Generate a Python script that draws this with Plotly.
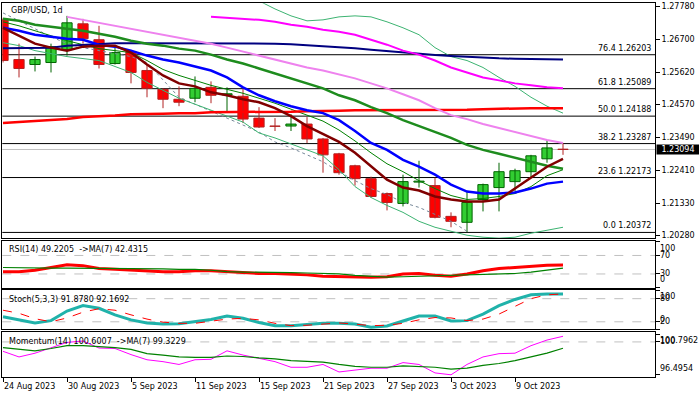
import plotly.graph_objects as go

# ---------------- data ----------------
dates = ["24 Aug 2023", "25 Aug 2023", "28 Aug 2023", "29 Aug 2023", "30 Aug 2023",
         "31 Aug 2023", "1 Sep 2023", "4 Sep 2023", "5 Sep 2023", "6 Sep 2023",
         "7 Sep 2023", "8 Sep 2023", "11 Sep 2023", "12 Sep 2023", "13 Sep 2023",
         "14 Sep 2023", "15 Sep 2023", "18 Sep 2023", "19 Sep 2023", "20 Sep 2023",
         "21 Sep 2023", "22 Sep 2023", "25 Sep 2023", "26 Sep 2023", "27 Sep 2023",
         "28 Sep 2023", "29 Sep 2023", "2 Oct 2023", "3 Oct 2023", "4 Oct 2023",
         "5 Oct 2023", "6 Oct 2023", "9 Oct 2023", "10 Oct 2023", "11 Oct 2023",
         "12 Oct 2023"]
x_labels = ["24 Aug 2023", "30 Aug 2023", "5 Sep 2023", "11 Sep 2023", "15 Sep 2023",
            "21 Sep 2023", "27 Sep 2023", "3 Oct 2023", "9 Oct 2023"]

opens = [1.27347, 1.26045, 1.25882, 1.25947, 1.26370, 1.27217, 1.26696, 1.25914, 1.26305,
         1.25686, 1.25068, 1.24742, 1.24775, 1.25133, 1.24888, 1.24840, 1.24123, 1.23863,
         1.23863, 1.23928, 1.23439, 1.22951, 1.22560, 1.22137, 1.21648, 1.21323, 1.22023,
         1.21909, 1.20899, 1.20704, 1.21453, 1.21844, 1.22039, 1.22365, 1.22788, 1.23100]
highs = [1.27412, 1.26566, 1.26142, 1.26566, 1.27478, 1.27380, 1.27152, 1.26435, 1.26338,
         1.25882, 1.25100, 1.25165, 1.25491, 1.25328, 1.25133, 1.25100, 1.24481, 1.24123,
         1.24253, 1.24156, 1.23472, 1.22983, 1.22593, 1.22202, 1.21681, 1.22267, 1.22723,
         1.22169, 1.21030, 1.21713, 1.21974, 1.22658, 1.22463, 1.22918, 1.23407, 1.23309]
lows = [1.25947, 1.25458, 1.25654, 1.25621, 1.26175, 1.26566, 1.25751, 1.25882, 1.25263,
        1.24807, 1.24449, 1.24514, 1.24644, 1.24612, 1.24319, 1.23960, 1.23798, 1.23700,
        1.23700, 1.23309, 1.22332, 1.22267, 1.21909, 1.21518, 1.21095, 1.21225, 1.21844,
        1.20834, 1.20541, 1.20378, 1.21062, 1.21062, 1.21713, 1.22169, 1.22658, 1.22918]
closes = [1.26012, 1.25751, 1.26045, 1.26468, 1.27250, 1.26729, 1.25882, 1.26273, 1.25621,
          1.25100, 1.24742, 1.24644, 1.25100, 1.24872, 1.24921, 1.24091, 1.23830, 1.23853,
          1.23928, 1.23439, 1.22918, 1.22332, 1.22137, 1.21551, 1.21355, 1.22039, 1.22055,
          1.20867, 1.20736, 1.21355, 1.21941, 1.22365, 1.22397, 1.22886, 1.23146, 1.23094]

ma_maroon = [1.27087, 1.26826, 1.26566, 1.26435, 1.26338, 1.26468, 1.26501, 1.26501, 1.26273,
             1.25882, 1.25524, 1.25263, 1.25165, 1.24970, 1.24872, 1.24742, 1.24644, 1.24449,
             1.24188, 1.23863, 1.23602, 1.23342, 1.22984, 1.22528, 1.22104, 1.21844, 1.21746,
             1.21551, 1.21453, 1.21388, 1.21388, 1.21453, 1.21811, 1.22169, 1.22528, 1.22788]
ma_blue = [1.27087, 1.26989, 1.26859, 1.26794, 1.26729, 1.26696, 1.26533, 1.26468, 1.26338,
           1.26175, 1.26045, 1.25947, 1.25817, 1.25686, 1.25458, 1.25133, 1.24872, 1.24677,
           1.24514, 1.24384, 1.24286, 1.24058, 1.23700, 1.23309, 1.23081, 1.22755, 1.22528,
           1.22267, 1.21941, 1.21713, 1.21648, 1.21648, 1.21681, 1.21811, 1.21974, 1.22039]
ma_green = [1.27380, 1.27315, 1.27184, 1.27119, 1.27054, 1.26989, 1.26891, 1.26794, 1.26663,
            1.26566, 1.26501, 1.26403, 1.26338, 1.26207, 1.26045, 1.25914, 1.25752, 1.25589,
            1.25426, 1.25263, 1.25100, 1.24872, 1.24709, 1.24481, 1.24286, 1.24058, 1.23863,
            1.23667, 1.23472, 1.23244, 1.23081, 1.22951, 1.22821, 1.22690, 1.22560, 1.22462]
ma_thin_green = [1.27282, 1.27152, 1.26989, 1.26826, 1.26663, 1.26533, 1.26403, 1.26338, 1.26273,
                 1.26012, 1.25719, 1.25524, 1.25361, 1.25198, 1.25068, 1.24937, 1.24775, 1.24612,
                 1.24416, 1.24221, 1.24025, 1.23732, 1.23374, 1.22983, 1.22625, 1.22365, 1.22071,
                 1.21811, 1.21583, 1.21453, 1.21485, 1.21551, 1.21648, 1.21876, 1.22234, 1.22430]
band_upper = [None] * 16 + [1.27970, 1.27705, 1.27478, 1.27315, 1.27347, 1.27445, 1.27478,
                            1.27445, 1.27282, 1.27087, 1.26859, 1.26435, 1.26142, 1.26012,
                            1.25784, 1.25458, 1.25165, 1.24807, 1.24514, 1.24286]
band_lower = [1.26598, 1.26501, 1.26338, 1.26240, 1.26142, 1.26077, 1.26012, 1.25817, 1.25621,
              1.25296, 1.25035, 1.24775, 1.24579, 1.24384, 1.24188, 1.23993, 1.23635, 1.23472,
              1.23276, 1.23081, 1.22886, 1.22430, 1.21876, 1.21518, 1.21257, 1.21030, 1.20737,
              1.20541, 1.20411, 1.20280, 1.20215, 1.20183, 1.20215, 1.20346, 1.20443, 1.20541]
ma_magenta = [None] * 13 + [1.27445, 1.27412, 1.27380, 1.27347, 1.27282, 1.27184, 1.27119,
                            1.27022, 1.26956, 1.26859, 1.26696, 1.26533, 1.26338, 1.26207,
                            1.26012, 1.25784, 1.25621, 1.25458, 1.25361, 1.25263, 1.25198,
                            1.25133, 1.25100]
ma_violet = [None] * 4 + [1.27445, 1.27347, 1.27250, 1.27152, 1.27054, 1.26956, 1.26859,
                          1.26761, 1.26663, 1.26566, 1.26435, 1.26305, 1.26175, 1.26045,
                          1.25914, 1.25784, 1.25686, 1.25556, 1.25426, 1.25263, 1.25100,
                          1.24905, 1.24709, 1.24449, 1.24221, 1.24091, 1.23928, 1.23798,
                          1.23667, 1.23537, 1.23407, 1.23309]
ma_red = [1.23960, 1.23993, 1.24025, 1.24058, 1.24091, 1.24156, 1.24172, 1.24205, 1.24253,
          1.24253, 1.24270, 1.24286, 1.24286, 1.24319, 1.24319, 1.24319, 1.24319, 1.24335,
          1.24335, 1.24351, 1.24351, 1.24367, 1.24384, 1.24384, 1.24384, 1.24384, 1.24384,
          1.24384, 1.24400, 1.24400, 1.24416, 1.24432, 1.24449, 1.24449, 1.24449, 1.24449]
ma_navy = [1.26413, 1.26413, 1.26413, 1.26435, 1.26501, 1.26533, 1.26550, 1.26576, 1.26576,
           1.26576, 1.26576, 1.26576, 1.26576, 1.26576, 1.26576, 1.26576, 1.26576, 1.26566,
           1.26550, 1.26517, 1.26501, 1.26468, 1.26413, 1.26370, 1.26321, 1.26273, 1.26230,
           1.26191, 1.26159, 1.26126, 1.26100, 1.26084, 1.26071, 1.26061, 1.26051, 1.26045]
gray_dotted = [1.27575, 1.27315, 1.27054, 1.26794, 1.26566, 1.26435, 1.26338, 1.26240, 1.26142,
               1.25947, 1.25361, 1.24807, 1.24579, 1.24351, 1.24123, 1.23895, 1.23667, 1.23342,
               1.23146, 1.22918, 1.22690, 1.22365, 1.22072, 1.21811, 1.21616, 1.21355, 1.21193,
               1.20964, 1.20736, 1.20411] + [None] * 6

fib_levels = ["0.0", "23.6", "38.2", "50.0", "61.8", "76.4"]
fib_prices = [1.20372, 1.22173, 1.23287, 1.24188, 1.25089, 1.26203]
price_ticks = [1.27780, 1.26700, 1.25620, 1.24570, 1.23490, 1.22410, 1.21330, 1.20280]
price_tick_text = ["1.27780", "1.26700", "1.25620", "1.24570", "1.23490", "1.22410", "1.21330", "1.20280"]
last_price = 1.23094

rsi = [35, 35, 38, 44, 50, 48, 42, 40, 38, 36, 35, 35, 37, 37, 35, 32, 31, 31, 30, 28, 25, 24,
       23, 23, 24, 30, 31, 27, 25, 30, 37, 42, 44, 46, 49, 49.2205]
rsi_ma = [44, 43, 42.5, 42.5, 42.5, 42.5, 42.5, 42, 41.5, 41, 41, 40, 40, 38, 35, 34, 34, 33,
          33, 32, 31, 30, 27, 25, 23, 24, 25, 26, 26, 27, 29, 30, 31, 34, 38, 42.4315]
rsi_levels = [70, 30]

stoch_k = [33, 25, 17, 23, 48, 62, 55, 38, 25, 17, 14, 15, 20, 26, 35, 29, 18, 10, 10, 13, 16,
           16, 14, 6, 9, 22, 35, 35, 22, 23, 40, 62, 78, 90, 92, 91.878]
stoch_d = [50, 42, 28, 20, 30, 45, 54, 50, 38, 27, 19, 16, 16, 22, 27, 29, 25, 16, 10, 11, 14,
           17, 14, 10, 11, 16, 25, 31, 30, 23, 27, 40, 60, 80, 90, 92.1692]
stoch_levels = [80, 20]

mom = [99.0, 98.4, 98.8, 99.4, 99.95, 100.1, 99.35, 99.3, 98.65, 98.1, 97.9, 97.6, 98.1, 98.15,
       99.05, 98.6, 98.25, 97.9, 97.3, 97.3, 97.6, 96.8, 97.0, 97.2, 97.2, 97.8, 97.6, 96.7,
       96.5, 97.6, 98.4, 98.75, 98.8, 99.6, 100.2, 100.6007]
mom_ma = [99.4, 99.2, 99.05, 99.3, 99.6, 99.6, 99.5, 99.4, 99.2, 98.75, 98.6, 98.4, 98.35,
          98.35, 98.5, 98.45, 98.3, 98.2, 98.0, 97.9, 97.85, 97.6, 97.4, 97.3, 97.3, 97.45,
          97.4, 97.3, 97.1, 97.2, 97.5, 97.7, 98.0, 98.4, 98.8, 99.3229]
mom_level = 100
mom_max_label = 100.7962
mom_min_label = 96.4954

# ---------------- layout helpers ----------------
W, H = 699, 397
FONT = "DejaVu Sans"


def py(p):
    return 1 - p / H


x_dom = [2.3 / W, 655 / W]
dom_main = [py(239.3), py(2.3)]
dom_rsi = [py(289), py(241.5)]
dom_sto = [py(331), py(291)]
dom_mom = [py(379), py(333.3)]

fig = go.Figure()

# ---------------- candles ----------------
up_col_body, up_col_line = "#32CD32", "#006400"
dn_col_body, dn_col_line = "#FF0000", "#B22222"

wx_up, wy_up, wx_dn, wy_dn = [], [], [], []
bases, heights, fills, borders = [], [], [], []
for d, o, h, l, c in zip(dates, opens, highs, lows, closes):
    up = c >= o
    if up:
        wx_up += [d, d, None]
        wy_up += [l, h, None]
    else:
        wx_dn += [d, d, None]
        wy_dn += [l, h, None]
    bases.append(min(o, c))
    heights.append(max(abs(c - o), 0.00010))
    fills.append(up_col_body if up else dn_col_body)
    borders.append(up_col_line if up else dn_col_line)

fig.add_trace(go.Scatter(x=wx_up, y=wy_up, mode="lines", line=dict(color=up_col_line, width=1),
                         hoverinfo="skip", xaxis="x", yaxis="y"))
fig.add_trace(go.Scatter(x=wx_dn, y=wy_dn, mode="lines", line=dict(color=dn_col_line, width=1),
                         hoverinfo="skip", xaxis="x", yaxis="y"))
fig.add_trace(go.Bar(x=dates, y=heights, base=bases, width=0.64,
                     marker=dict(color=fills, line=dict(color=borders, width=1)),
                     hoverinfo="skip", xaxis="x", yaxis="y"))


def line(y, color, width, dash="solid", xa="x", ya="y"):
    fig.add_trace(go.Scatter(x=dates, y=y, mode="lines",
                             line=dict(color=color, width=width, dash=dash),
                             hoverinfo="skip", xaxis=xa, yaxis=ya))


# main chart indicators
line(gray_dotted, "#778899", 1, "dot")
line(band_upper, "#3CB371", 1)
line(band_lower, "#3CB371", 1)
line(ma_thin_green, "#008000", 1)
line(ma_red, "#FF0000", 2.5)
line(ma_navy, "#000080", 2)
line(ma_violet, "#EE82EE", 2)
line(ma_magenta, "#FF00FF", 2)
line(ma_green, "#1E8C1E", 2.5)
line(ma_blue, "#0000FF", 2.5)
line(ma_maroon, "#800000", 2.5)

# RSI
line(rsi, "#FF0000", 3, xa="x2", ya="y2")
line(rsi_ma, "#008000", 1.2, xa="x2", ya="y2")
# Stochastic
line(stoch_k, "#20B2AA", 3, xa="x3", ya="y3")
line(stoch_d, "#FF0000", 1, "dash", xa="x3", ya="y3")
# Momentum
line(mom, "#FF00FF", 1, xa="x4", ya="y4")
line(mom_ma, "#008000", 1.2, xa="x4", ya="y4")

shapes = []
annotations = []

# fib lines & current price line
for lvl, p in zip(fib_levels, fib_prices):
    shapes.append(dict(type="line", xref="x domain", yref="y", x0=0, x1=1, y0=p, y1=p,
                       line=dict(color="black", width=1), layer="below"))
    annotations.append(dict(xref="x domain", yref="y", x=1, y=p, xanchor="right", yanchor="bottom",
                            xshift=-2, text=f"{lvl} {p:.5f}", showarrow=False,
                            font=dict(family=FONT, size=8, color="black")))
shapes.append(dict(type="line", xref="x domain", yref="y", x0=0, x1=1, y0=last_price, y1=last_price,
                   line=dict(color="#C0C0C0", width=1), layer="below"))
annotations.append(dict(xref="paper", yref="y", x=655.5 / W, y=last_price, xanchor="left",
                        yanchor="middle", text=f"{last_price:.5f}", showarrow=False,
                        bgcolor="black", borderpad=0, width=42,
                        font=dict(family=FONT, size=8, color="white")))

# indicator level lines
for v in rsi_levels:
    shapes.append(dict(type="line", xref="x2 domain", yref="y2", x0=0, x1=1, y0=v, y1=v,
                       line=dict(color="#C0C0C0", width=1, dash="dash"), layer="below"))
for v in stoch_levels:
    shapes.append(dict(type="line", xref="x3 domain", yref="y3", x0=0, x1=1, y0=v, y1=v,
                       line=dict(color="#C0C0C0", width=1, dash="dash"), layer="below"))
shapes.append(dict(type="line", xref="x4 domain", yref="y4", x0=0, x1=1, y0=mom_level, y1=mom_level,
                   line=dict(color="#C0C0C0", width=1, dash="dash"), layer="below"))


def lab(text, ya, v, anchor, yshift=0):
    annotations.append(dict(xref="paper", yref=ya, x=657.5 / W, y=v, xanchor="left", yanchor=anchor,
                            yshift=yshift, text=text, showarrow=False,
                            font=dict(family=FONT, size=8, color="black")))


# top / bottom labels are pinned to the panel edges, middle labels sit on their values
lab("100", "paper", dom_rsi[1], "top", -1)
lab("70", "y2", 70, "middle")
lab("30", "y2", 30, "middle")
lab("0", "paper", dom_rsi[0], "bottom", 2)
lab("100", "paper", dom_sto[1], "top")
lab("80", "y3", 80, "middle")
lab("20", "y3", 20, "middle")
lab("0", "paper", dom_sto[0], "bottom", 3)
lab(f"{mom_max_label:.4f}", "y4", mom_max_label, "top")
lab(f"{mom_level}", "y4", mom_level, "middle")
lab(f"{mom_min_label:.4f}", "y4", mom_min_label, "bottom")


# panel titles
def title(text, ypx, xpx):
    annotations.append(dict(xref="paper", yref="paper", x=xpx / W, y=py(ypx), xanchor="left",
                            yanchor="middle", text=text, showarrow=False,
                            font=dict(family=FONT, size=8, color="black")))


title("GBP/USD, 1d", 9.5, 8.5)
title(f"RSI(14) {rsi[-1]:.4f}\u00a0\u00a0->MA(7) {rsi_ma[-1]:.4f}", 250.7, 6.5)
title(f"Stoch(5,3,3) {stoch_k[-1]:.4f} {stoch_d[-1]:.4f}", 300.7, 6.5)
title(f"Momentum(14) {mom[-1]:.4f}\u00a0\u00a0->MA(7) {mom_ma[-1]:.4f}", 342.7, 6.5)

# x labels (left aligned at tick)
for d in x_labels:
    annotations.append(dict(xref="x4", yref="paper", x=d, y=py(388.5), xanchor="left",
                            yanchor="middle", xshift=-1.5, text=d, showarrow=False,
                            font=dict(family=FONT, size=8, color="black")))

xr = [-0.044, 40.75]
xbase = dict(type="category", categoryorder="array", categoryarray=dates, range=xr,
             domain=x_dom, showline=True, mirror=True, linecolor="black", linewidth=1,
             showgrid=False, zeroline=False, showticklabels=False, fixedrange=True)
ybase = dict(showline=True, mirror=True, linecolor="black", linewidth=1, showgrid=False,
             zeroline=False, side="right", ticks="outside", ticklen=4, tickcolor="black",
             tickfont=dict(family=FONT, size=8, color="black"), fixedrange=True)

fig.update_layout(
    width=W, height=H, margin=dict(l=0, r=0, t=0, b=0),
    paper_bgcolor="white", plot_bgcolor="white", showlegend=False, barmode="overlay",
    xaxis=dict(xbase, anchor="y"),
    xaxis2=dict(xbase, anchor="y2", matches="x"),
    xaxis3=dict(xbase, anchor="y3", matches="x"),
    xaxis4=dict(xbase, anchor="y4", matches="x", ticks="outside", ticklen=4, tickcolor="black",
                tickmode="array", tickvals=x_labels),
    yaxis=dict(ybase, domain=dom_main, anchor="x", range=[1.20173, 1.27891],
               tickmode="array", tickvals=price_ticks, ticktext=price_tick_text),
    yaxis2=dict(ybase, domain=dom_rsi, anchor="x2", range=[0, 102], tickmode="array",
                tickvals=[100, 70, 30, 0], showticklabels=False),
    yaxis3=dict(ybase, domain=dom_sto, anchor="x3", range=[0, 103], tickmode="array",
                tickvals=[100, 80, 20, 0], showticklabels=False),
    yaxis4=dict(ybase, domain=dom_mom, anchor="x4", range=[96.25, 101.08], tickmode="array",
                tickvals=[mom_max_label, mom_level, mom_min_label], showticklabels=False),
    shapes=shapes, annotations=annotations,
)

fig.write_html("out.html", config={"displayModeBar": False, "staticPlot": True},
               post_script="document.body.style.margin='0px';document.body.style.overflow='hidden';")
